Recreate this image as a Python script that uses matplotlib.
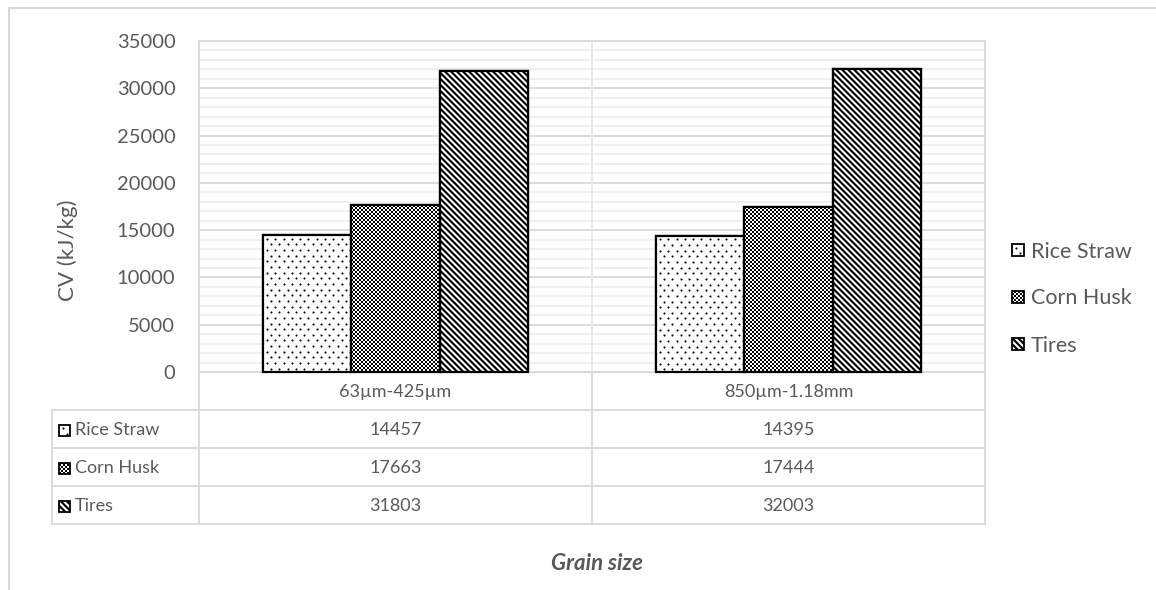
import math
import matplotlib
matplotlib.use("Agg")
import matplotlib.pyplot as plt
from matplotlib.patches import Rectangle
from matplotlib.lines import Line2D
from matplotlib.collections import LineCollection, PolyCollection
from matplotlib.transforms import Bbox, IdentityTransform

# ---- data -------------------------------------------------------------
categories = ["63µm-425µm", "850µm-1.18mm"]
series_names = ["Rice Straw", "Corn Husk", "Tires"]
rice_straw = [14457, 14395]
corn_husk = [17663, 17444]
tires = [31803, 32003]
y_ticks = [0, 5000, 10000, 15000, 20000, 25000, 30000, 35000]

series_values = [rice_straw, corn_husk, tires]
fills = ["dots", "checker", "stripes"]

# ---- figure setup -----------------------------------------------------
W, H = 1156, 590
plt.rcParams["font.family"] = ["Lato", "DejaVu Sans"]
TXT = "#595959"
GRID_MAJ = "#d9d9d9"
GRID_MIN = "#eeeeee"
FS_TICK = 14.5
FS_TABLE = 13
FS_LEG = 15.5
FS_TITLE = 16

fig = plt.figure(figsize=(W / 100, H / 100), dpi=100)
PIX = IdentityTransform()


def fx(px):
    return px / W


def fy(py):
    return 1 - py / H


def pattern_box(kind, x0, y0, x1, y1, edge_lw=1.6, z=2):
    """Fill a box given in display pixels with a black & white texture."""
    clip = Bbox([[x0, y0], [x1, y1]])
    face = Rectangle((x0, y0), x1 - x0, y1 - y0, transform=PIX,
                     facecolor="white", edgecolor="none", zorder=z)
    fig.add_artist(face)
    if kind == "dots":
        step = 8.3
        xs, ys = [], []
        row = 0
        y = y1 - 3.5
        while y > y0 + 1:
            x = x0 + 3.5 + (step / 2 if row % 2 else 0)
            while x < x1 - 1:
                xs.append(x)
                ys.append(y)
                x += step
            y -= step / 2 + 1.5
            row += 1
        art = Line2D(xs, ys, transform=PIX, ls="none", marker="o",
                     ms=1.5, mfc="black", mec="none", zorder=z + 0.1)
    elif kind == "checker":
        c = 2
        sq = []
        i0, j0 = math.floor(x0), math.floor(y0)
        for i in range(int((x1 - x0) // c) + 2):
            for j in range(int((y1 - y0) // c) + 2):
                if (i + j) % 2 == 0:
                    xa, ya = i0 + i * c, j0 + j * c
                    sq.append([(xa, ya), (xa + c, ya), (xa + c, ya + c),
                               (xa, ya + c)])
        art = PolyCollection(sq, transform=PIX, facecolors="black",
                             edgecolors="none", antialiaseds=False,
                             zorder=z + 0.1)
    else:
        period = 6.0
        segs = []
        cval = x0 + y0
        while cval < x1 + y1 + period:
            segs.append([(cval - y1, y1), (cval - y0, y0)])
            cval += period
        art = LineCollection(segs, transform=PIX, colors="black",
                             linewidths=1.55, zorder=z + 0.1)
    art.set_clip_box(clip)
    art.set_clip_on(True)
    fig.add_artist(art)
    edge = Rectangle((x0, y0), x1 - x0, y1 - y0, transform=PIX,
                     fill=False, edgecolor="black", lw=edge_lw,
                     zorder=z + 0.2)
    fig.add_artist(edge)


# outer chart frame
fig.patches.append(Rectangle((fx(9), fy(700)), fx(1200), fy(8) - fy(700),
                             transform=fig.transFigure, fill=False,
                             edgecolor=GRID_MAJ, lw=1.5))

L, R, T, B = 199, 985, 41, 372
ax = fig.add_axes([fx(L), fy(B), fx(R) - fx(L), fy(T) - fy(B)])
ax.set_xlim(-0.5, len(categories) - 0.5)
ax.set_ylim(0, 35000)

# gridlines
for v in range(0, 35001, 1000):
    if v % 5000:
        ax.axhline(v, color=GRID_MIN, lw=1.3, zorder=0)
for v in y_ticks:
    ax.axhline(v, color=GRID_MAJ, lw=1.3, zorder=0.5)
for i in range(len(categories) + 1):
    ax.axvline(i - 0.5, color="#e6e6e6", lw=1.3, zorder=0.5)

for s in ax.spines.values():
    s.set_color(GRID_MAJ)
    s.set_linewidth(1.3)

ax.set_yticks(y_ticks)
ax.set_yticklabels([str(v) for v in y_ticks], color=TXT, fontsize=FS_TICK)
ax.tick_params(axis="y", length=0, pad=17)
ax.set_xticks([])

# bars, then their texture on top in pixel space
width = 0.224
for k, (name, vals) in enumerate(zip(series_names, series_values)):
    xs = [i + (k - 1) * width for i in range(len(categories))]
    bars = ax.bar(xs, vals, width=width, facecolor="white",
                  edgecolor="black", lw=1.6, label=name, zorder=3)
    for b in bars:
        (px0, py0), (px1, py1) = ax.transData.transform(
            [(b.get_x(), b.get_y()),
             (b.get_x() + b.get_width(), b.get_y() + b.get_height())])
        pattern_box(fills[k], px0, py0, px1, py1, edge_lw=1.6, z=2)

# y-axis title
fig.text(fx(68), fy(250), "CV (kJ/kg)", rotation=90, ha="center",
         va="center", color=TXT, fontsize=FS_TITLE)

# ---- data table -------------------------------------------------------
row_edges = [372, 410, 448, 486, 524]
col_left = 52
col_edges = [L, (L + R) / 2, R]


def hline(x0, x1, y):
    fig.add_artist(Line2D([fx(x0), fx(x1)], [fy(y), fy(y)],
                          transform=fig.transFigure, color=GRID_MAJ, lw=1.3))


def vline(x, y0, y1):
    fig.add_artist(Line2D([fx(x), fx(x)], [fy(y0), fy(y1)],
                          transform=fig.transFigure, color=GRID_MAJ, lw=1.3))


hline(L, R, row_edges[0])
for y in row_edges[1:]:
    hline(col_left, R, y)
vline(col_left, row_edges[1], row_edges[-1])
for x in col_edges:
    vline(x, row_edges[0], row_edges[-1])

for i, cat in enumerate(categories):
    cx = (col_edges[i] + col_edges[i + 1]) / 2
    fig.text(fx(cx), fy((row_edges[0] + row_edges[1]) / 2 + 1), cat,
             ha="center", va="center", color=TXT, fontsize=FS_TABLE)

for k, (name, vals) in enumerate(zip(series_names, series_values)):
    yc = (row_edges[k + 1] + row_edges[k + 2]) / 2 + 1
    pattern_box(fills[k], 59, H - yc - 5.5, 70, H - yc + 5.5,
                edge_lw=1.3, z=2)
    fig.text(fx(75), fy(yc), name, ha="left", va="center", color=TXT,
             fontsize=FS_TABLE)
    for i, v in enumerate(vals):
        cx = (col_edges[i] + col_edges[i + 1]) / 2
        fig.text(fx(cx), fy(yc), str(v), ha="center", va="center",
                 color=TXT, fontsize=FS_TABLE)

# x-axis title
fig.text(fx(597), fy(563), "Grain size", ha="center", va="center",
         color=TXT, fontsize=FS_TITLE, fontweight="bold", fontstyle="italic")

# ---- legend -----------------------------------------------------------
legend_rows = [250, 297, 344]
for k, name in enumerate(series_names):
    yc = legend_rows[k]
    pattern_box(fills[k], 1012, H - yc - 6, 1024, H - yc + 6,
                edge_lw=1.3, z=2)
    fig.text(fx(1031), fy(yc + 1.5), name, ha="left", va="center",
             color=TXT, fontsize=FS_LEG)

fig.savefig("out.png", dpi=100)
